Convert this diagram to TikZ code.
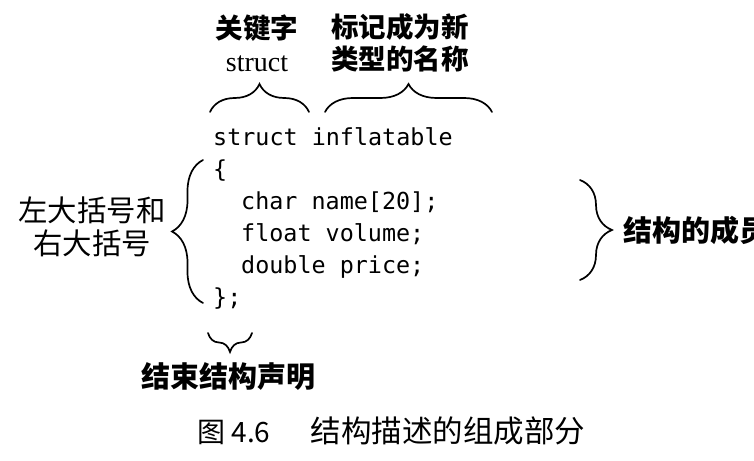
\documentclass[tikz,border=0pt]{standalone}
\usepackage{fontspec}
\setmainfont{Liberation Serif}
\setmonofont{DejaVu Sans Mono}
\newfontfamily\cjk{Noto Sans CJK SC}
\usetikzlibrary{decorations.pathreplacing}
\begin{document}
\begin{tikzpicture}[x=1pt,y=1pt,
  boldlab/.style={font=\cjk\bfseries\fontsize{27.5}{32}\selectfont, inner sep=0pt, align=center},
  bigbold/.style={font=\cjk\bfseries\fontsize{29}{33}\selectfont, inner sep=0pt},
  plainlab/.style={font=\cjk\fontsize{29.4}{33}\selectfont, inner sep=0pt, align=center},
  codeline/.style={font=\ttfamily\fontsize{23.4}{28}\selectfont, inner sep=0pt, anchor=base west},
  bracepath/.style={decorate, line width=1.7pt, line cap=round},
]
\useasboundingbox (0,0) rectangle (754,460);
% labels
\node[boldlab, anchor=base] (kw) at (257,388) {关键字\\[1pt]{\rmfamily\mdseries\fontsize{28}{32}\selectfont struct}};
\node[boldlab, anchor=base] (nm) at (400,390) {标记成为新\\类型的名称};
\node[plainlab, anchor=base] (lr) at (92,205) {左大括号和\\右大括号};
\node[bigbold, anchor=base west] (mem) at (623,218) {结构的成员};
\node[bigbold, anchor=base] (end) at (228,72) {结束结构声明};
\node[font=\cjk\fontsize{28}{33}\selectfont, inner sep=0pt, anchor=base west] (cap) at (197,18) {图 4.6\hspace{1.45em}{\fontsize{30.5}{33}\selectfont 结构描述的组成部分}};
% code
\node[codeline] (l1) at (213,314) {struct inflatable};
\node[codeline] (l2) at (213,282) {\{};
\node[codeline] (l3) at (241,250) {char name[20];};
\node[codeline] (l4) at (241,218) {float volume;};
\node[codeline] (l5) at (241,186) {double price;};
\node[codeline] (l6) at (213,154) {\};};
% brace end points
\coordinate (b1a) at (210,348); \coordinate (b1b) at (309,348);
\coordinate (b2a) at (325,348); \coordinate (b2b) at (492,348);
\coordinate (bla) at (203,157); \coordinate (blb) at (203,300);
\coordinate (bra) at (580,280); \coordinate (brb) at (580,180);
\coordinate (bba) at (252,127); \coordinate (bbb) at (208,127);
% braces
\draw[bracepath, decoration={brace, amplitude=28pt}] (b1a) -- (b1b);
\draw[bracepath, decoration={brace, amplitude=28pt}] (b2a) -- (b2b);
\draw[bracepath, decoration={brace, amplitude=31pt}] (bla) -- (blb);
\draw[bracepath, decoration={brace, amplitude=32pt}] (bra) -- (brb);
\draw[bracepath, decoration={brace, amplitude=19pt}] (bba) -- (bbb);
\end{tikzpicture}
\end{document}
